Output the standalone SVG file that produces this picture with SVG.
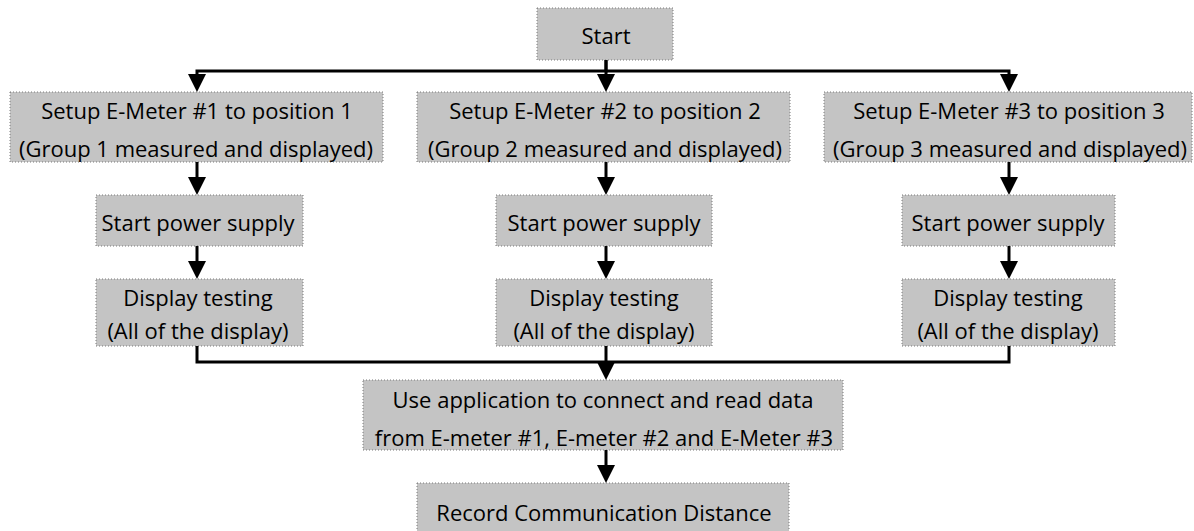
<svg xmlns="http://www.w3.org/2000/svg" width="1194" height="531" viewBox="0 0 1194 531">
<defs>
<style>
.box{fill:#c4c4c4;stroke:#7a7a7a;stroke-width:1;stroke-dasharray:1 2}
.t{font-family:"Open Sans","Noto Sans","DejaVu Sans",sans-serif;font-size:22px;fill:#000;text-anchor:middle}
.c{fill:none;stroke:#000;stroke-width:3;stroke-linejoin:miter}
</style>
<marker id="ah" markerUnits="userSpaceOnUse" markerWidth="20" markerHeight="20" refX="12" refY="9" orient="auto">
<path d="M0,0 L18,9 L0,18 z" fill="#000"/>
</marker>
</defs>
<rect width="1194" height="531" fill="#fff"/>
<g id="start"><rect class="box" x="537" y="8" width="136" height="52"/><text class="t" x="606" y="44">Start</text></g>
<g id="setup1"><rect class="box" x="10" y="92" width="373" height="70"/><text class="t" x="197" y="119">Setup E-Meter #1 to position 1</text><text class="t" x="196" y="157">(Group 1 measured and displayed)</text></g>
<g id="setup2"><rect class="box" x="417" y="92" width="373" height="70"/><text class="t" x="605" y="119">Setup E-Meter #2 to position 2</text><text class="t" x="605" y="157">(Group 2 measured and displayed)</text></g>
<g id="setup3"><rect class="box" x="824" y="92" width="368" height="70"/><text class="t" x="1009" y="119">Setup E-Meter #3 to position 3</text><text class="t" x="1010" y="157">(Group 3 measured and displayed)</text></g>
<g id="power1"><rect class="box" x="96" y="195" width="207" height="51"/><text class="t" x="198" y="231">Start power supply</text></g>
<g id="power2"><rect class="box" x="496" y="195" width="216" height="51"/><text class="t" x="604" y="231">Start power supply</text></g>
<g id="power3"><rect class="box" x="902" y="195" width="213" height="51"/><text class="t" x="1008" y="231">Start power supply</text></g>
<g id="display1"><rect class="box" x="96" y="279" width="207" height="67"/><text class="t" x="198" y="306">Display testing</text><text class="t" x="198" y="339">(All of the display)</text></g>
<g id="display2"><rect class="box" x="496" y="279" width="216" height="67"/><text class="t" x="604" y="306">Display testing</text><text class="t" x="604" y="339">(All of the display)</text></g>
<g id="display3"><rect class="box" x="902" y="279" width="213" height="67"/><text class="t" x="1008" y="306">Display testing</text><text class="t" x="1008" y="339">(All of the display)</text></g>
<g id="app"><rect class="box" x="363" y="380" width="480" height="70"/><text class="t" x="603" y="408">Use application to connect and read data</text><text class="t" x="604" y="446">from E-meter #1, E-meter #2 and E-Meter #3</text></g>
<g id="record"><rect class="box" x="417" y="483" width="372" height="50"/><text class="t" x="604" y="521">Record Communication Distance</text></g>
<g id="connectors">
<path class="c" d="M606,60 V71 H197 V86" marker-end="url(#ah)"/>
<path class="c" d="M606,60 V86" marker-end="url(#ah)"/>
<path class="c" d="M606,71 H1009 V86" marker-end="url(#ah)"/>
<path class="c" d="M197,162 V189" marker-end="url(#ah)"/>
<path class="c" d="M606,162 V189" marker-end="url(#ah)"/>
<path class="c" d="M1009,162 V189" marker-end="url(#ah)"/>
<path class="c" d="M197,246 V273" marker-end="url(#ah)"/>
<path class="c" d="M606,246 V273" marker-end="url(#ah)"/>
<path class="c" d="M1009,246 V273" marker-end="url(#ah)"/>
<path class="c" d="M197,346 V362 H1009 V346"/>
<path class="c" d="M606,346 V374" marker-end="url(#ah)"/>
<path class="c" d="M606,450 V477" marker-end="url(#ah)"/>
</g>
</svg>
